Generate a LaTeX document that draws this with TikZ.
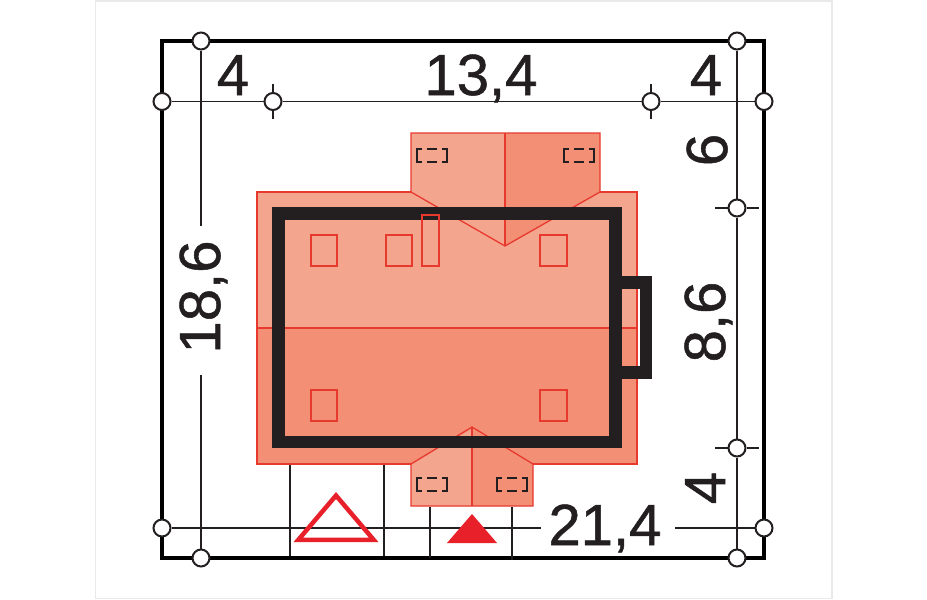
\documentclass[tikz,border=0pt]{standalone}
\usepackage{fontspec}
\setmainfont{Liberation Sans}
\newfontfamily\dimfont[FakeBold=0.9]{Liberation Sans}
\definecolor{roofL}{HTML}{F4A58E}
\definecolor{roofD}{HTML}{F28F74}
\definecolor{roofR}{HTML}{E8392F}
\definecolor{signR}{HTML}{E8202A}
\definecolor{ink}{HTML}{231F20}
\definecolor{pagefr}{HTML}{E9E9E9}
\tikzset{
  x=1pt,y=-1pt,
  roofline/.style={draw=roofR,line width=1.3pt,line join=miter},
  wall/.style={draw=ink,line width=12.5pt,line join=miter},
  plot/.style={draw=black,line width=4pt,line join=miter},
  dim/.style={draw=ink,line width=1.5pt},
  axisdot/.style={circle,draw=ink,fill=white,line width=2pt,minimum size=17pt,inner sep=0pt},
  dimtext/.style={text=ink,font=\dimfont\fontsize{58}{58}\selectfont,inner sep=0pt,anchor=base},
  vdimtext/.style={dimtext,rotate=90},
  skylight/.pic={
    \draw[ink,line width=1.6pt] (5,0) -- (0,0) -- (0,13) -- (5,13)
      (10,0) -- (20,0) (10,13) -- (20,13)
      (25,0) -- (30,0) -- (30,13) -- (25,13);
  }
}
\begin{document}
\begin{tikzpicture}
\useasboundingbox (0,0) rectangle (927,600);
\draw[pagefr,line width=1.5pt] (95.5,1) rectangle (832,598.5);

% roof surfaces
\fill[roofL] (257,192) rectangle (637,328);
\fill[roofD] (257,328) rectangle (637,464);
\fill[roofL] (411,133) -- (505,133) -- (505,246) -- (411,192) -- cycle;
\fill[roofD] (505,133) -- (600,133) -- (600,192) -- (505,246) -- cycle;
\fill[roofL] (411,464) -- (472,429) -- (472,506) -- (411,506) -- cycle;
\fill[roofD] (472,429) -- (533,464) -- (533,506) -- (472,506) -- cycle;

% roof outlines
\draw[roofline] (411,192) -- (257,192) -- (257,464) -- (411,464);
\draw[roofline] (600,192) -- (637,192) -- (637,464) -- (533,464);
\draw[roofline] (257,328) -- (637,328);
\draw[roofline] (505,246) -- (411,192) -- (411,133) -- (600,133) -- (600,192) -- cycle;
\draw[roofline] (505,133) -- (505,246);
\draw[roofline] (411,464) -- (472,427) -- (533,464) -- (533,506) -- (411,506) -- cycle;
\draw[roofline] (472,427) -- (472,506);

% walls
\draw[wall] (278.5,213.5) rectangle (615.5,442);
\draw[wall] (615.5,282.5) -- (646,282.5) -- (646,372.5) -- (615.5,372.5);

% windows and chimney
\draw[roofline] (311,235) rectangle (337,266);
\draw[roofline] (386,235) rectangle (412,266);
\draw[roofline] (422,215) rectangle (439,266);
\draw[roofline] (540,235) rectangle (567,266);
\draw[roofline] (311,390) rectangle (337,421);
\draw[roofline] (540,390) rectangle (567,421);
\pic at (417,149) {skylight};
\pic at (564,149) {skylight};
\pic at (417,478) {skylight};
\pic at (497,478) {skylight};

% plot
\draw[plot] (162,41) rectangle (764,558);

% axis markers
\node[axisdot] (tl) at (201,41) {};
\node[axisdot] (tr) at (737,41) {};
\node[axisdot] (lt) at (162,101.5) {};
\node[axisdot] (rt) at (764,101.5) {};
\node[axisdot] (d1) at (273,101.5) {};
\node[axisdot] (d2) at (651,101.5) {};
\node[axisdot] (r1) at (737,208) {};
\node[axisdot] (r2) at (737,448) {};
\node[axisdot] (lb) at (162,528) {};
\node[axisdot] (rb) at (764,528) {};
\node[axisdot] (bl) at (201,558) {};
\node[axisdot] (br) at (737,558) {};

\coordinate (gapL1) at (201,226);
\coordinate (gapL2) at (201,375);
\coordinate (gapB1) at (541,528);
\coordinate (gapB2) at (675,528);

% dimension lines
\draw[dim] (lt) -- (d1);
\draw[dim] (d1) -- (d2);
\draw[dim] (d2) -- (rt);
\draw[dim] (tl) -- (gapL1);
\draw[dim] (gapL2) -- (bl);
\draw[dim] (tr) -- (r1);
\draw[dim] (r1) -- (r2);
\draw[dim] (r2) -- (br);
\draw[dim] (lb) -- (gapB1);
\draw[dim] (gapB2) -- (rb);

% ticks
\draw[dim] (d1.north) -- ++(0,-8);
\draw[dim] (d1.south) -- ++(0,8);
\draw[dim] (d2.north) -- ++(0,-8);
\draw[dim] (d2.south) -- ++(0,8);
\draw[dim] (r1.west) -- ++(-13,0);
\draw[dim] (r1.east) -- ++(12,0);
\draw[dim] (r2.west) -- ++(-13,0);
\draw[dim] (r2.east) -- ++(12,0);

% drop lines
\draw[dim] (290,464.5) -- (290,556);
\draw[dim] (384,464.5) -- (384,556);
\draw[dim] (430,506.5) -- (430,558);
\draw[dim] (512,506.5) -- (512,560);

% north and entrance triangles
\draw[signR,line width=4.5pt,line join=miter] (336,495.5) -- (373.6,539.75) -- (298.4,539.75) -- cycle;
\fill[signR] (472,514) -- (497,543) -- (447,543) -- cycle;

% labels
\node[dimtext] (a) at (233,95) {4};
\node[dimtext] (b) at (481,95) {13,4};
\node[dimtext] (c) at (706,95) {4};
\node[dimtext] (d) at (605,545) {21,4};
\node[vdimtext] (e) at (727,150) {6};
\node[vdimtext] (f) at (725,322) {8,6};
\node[vdimtext] (g) at (725,488) {4};
\node[vdimtext] (h) at (220,297) {18,6};
\end{tikzpicture}
\end{document}
